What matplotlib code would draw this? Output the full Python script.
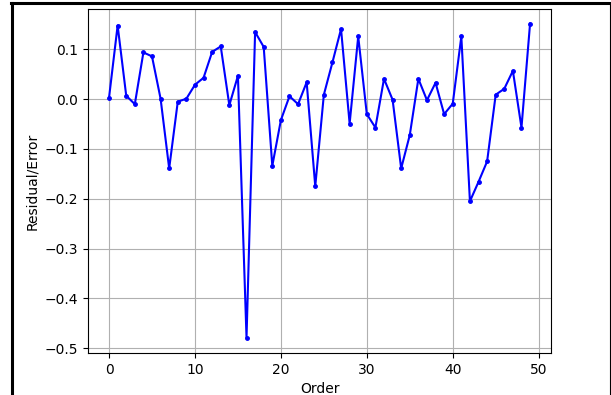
import matplotlib
matplotlib.use("Agg")
import matplotlib.pyplot as plt
from matplotlib.lines import Line2D

order = list(range(50))
residuals = [
    0.003, 0.148, 0.007, -0.010, 0.094, 0.086, 0.001, -0.139, -0.005, 0.001,
    0.029, 0.043, 0.095, 0.106, -0.012, 0.047, -0.479, 0.135, 0.105, -0.134,
    -0.042, 0.006, -0.010, 0.034, -0.175, 0.009, 0.074, 0.141, -0.049, 0.126,
    -0.030, -0.057, 0.041, -0.001, -0.139, -0.072, 0.041, -0.002, 0.033, -0.030,
    -0.009, 0.126, -0.205, -0.166, -0.125, 0.009, 0.021, 0.057, -0.057, 0.152,
]

fig = plt.figure(figsize=(6.11, 3.95), dpi=100)
ax = fig.add_axes([0.144, 0.106, 0.758, 0.871])
ax.plot(order, residuals, color='blue', marker='.', markersize=5, linewidth=1.5)
ax.set_ylim(-0.510, 0.181)
ax.set_xlabel('Order')
ax.set_ylabel('Residual/Error')
ax.grid(True)

# screenshot border around the figure
W, H = 611, 395
fig.add_artist(Line2D([11 / W, 1], [1 - 3 / H, 1 - 3 / H], color='black', linewidth=2.2,
                      transform=fig.transFigure))
fig.add_artist(Line2D([12 / W, 12 / W], [0, 1 - 3 / H], color='black', linewidth=2.2,
                      transform=fig.transFigure))
fig.add_artist(Line2D([609.5 / W, 609.5 / W], [0, 1 - 3 / H], color='black', linewidth=0.8,
                      transform=fig.transFigure))

fig.savefig('out.png', dpi=100)
